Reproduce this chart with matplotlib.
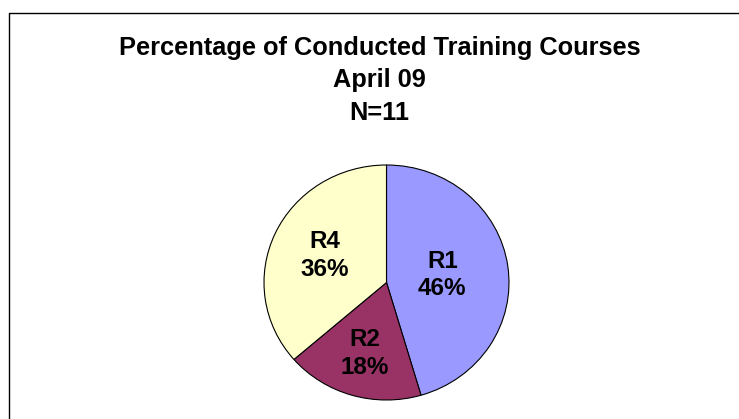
import matplotlib.pyplot as plt
import numpy as np
from matplotlib.lines import Line2D

# data
regions = ['R1', 'R2', 'R4']
counts = [5, 2, 4]
shown_pct = [46, 18, 36]
colors = ['#9999FF', '#993366', '#FFFFCC']
title_lines = ['Percentage of Conducted Training Courses', 'April 09', 'N=11']

plt.rcParams['font.family'] = ['Liberation Sans', 'DejaVu Sans']

W, H = 739, 419
fig = plt.figure(figsize=(W / 100, H / 100), dpi=100)

# pie axes placed in pixels (slightly wider than tall, like the original)
cx, cy, rx, ry = 386.5, 282.5, 122.5, 117.5
ax = fig.add_axes([(cx - rx) / W, (H - cy - ry) / H, 2 * rx / W, 2 * ry / H])

wedges, texts = ax.pie(counts, colors=colors, startangle=90, counterclock=False,
                       wedgeprops=dict(edgecolor='black', linewidth=0.8))
ax.set_aspect('auto')
ax.set_xlim(-1, 1)
ax.set_ylim(-1, 1)

# labels inside the wedges
label_dist = [0.46, 0.63, 0.55]
for w, name, p, d in zip(wedges, regions, shown_pct, label_dist):
    mid = np.deg2rad((w.theta1 + w.theta2) / 2)
    ax.text(d * np.cos(mid), d * np.sin(mid), '%s\n%d%%' % (name, p),
            ha='center', va='center', fontsize=17.5, fontweight='bold',
            linespacing=1.25)

# title
fig.text(379.5 / W, 1 - 80.5 / H, '\n'.join(title_lines), ha='center', va='center',
         fontsize=18.3, fontweight='bold', linespacing=1.46)

# chart area border (only top and left visible)
bx, by = 9 / W, 1 - 13 / H
fig.add_artist(Line2D([bx, bx, 1.0], [0.0, by, by], transform=fig.transFigure,
                      color='black', linewidth=1.0))

fig.savefig('out.png', dpi=100)
